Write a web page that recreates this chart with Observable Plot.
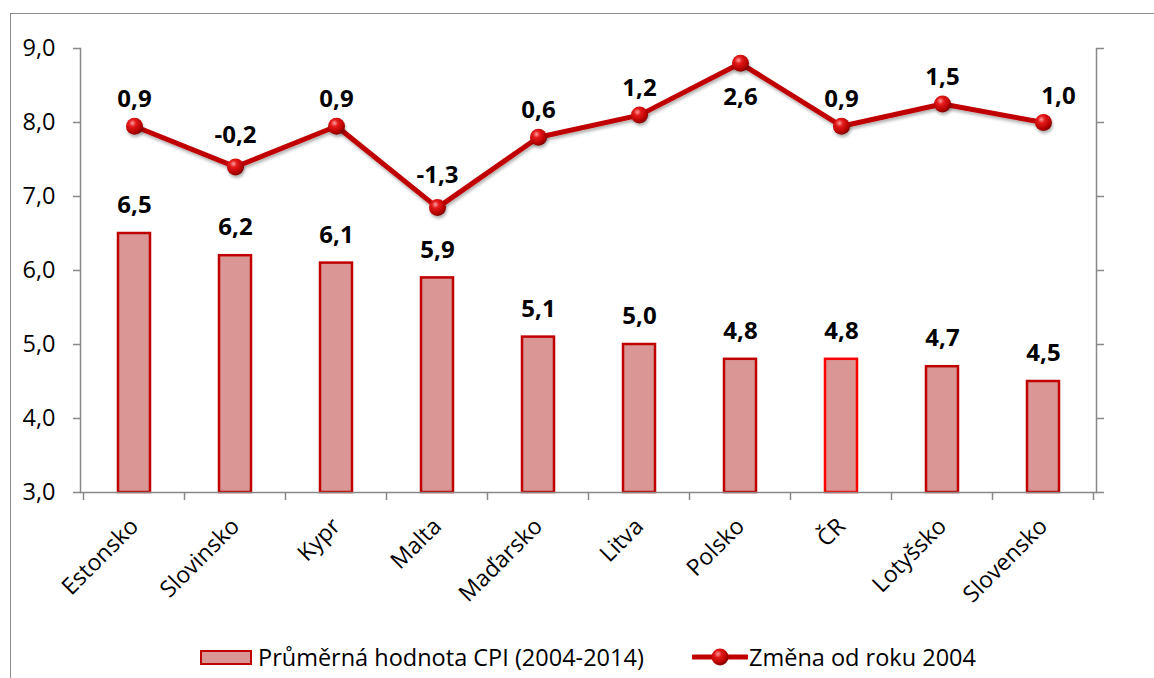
<!DOCTYPE html>
<html><head><meta charset="utf-8">
<script src="https://cdn.jsdelivr.net/npm/d3@7"></script>
<script src="https://cdn.jsdelivr.net/npm/@observablehq/plot@0.6"></script>
<style>
body{margin:0;background:#fff;font-family:"Open Sans",sans-serif;}
#wrap{position:relative;width:1154px;height:678px;overflow:hidden;background:#fff;}
#frame{position:absolute;left:10px;top:13px;width:1170px;height:720px;border:1px solid #8c8c8c;box-sizing:border-box;}
#chart{position:absolute;left:0;top:0;}
.leg{position:absolute;top:642px;display:flex;align-items:center;font-size:23.5px;color:#000;white-space:nowrap;height:30px;}
.sw{width:48px;height:11px;background:#D99694;border:2.5px solid #C00000;margin-right:6px;}
</style></head><body>
<div id="wrap"><div id="frame"></div><div id="chart"></div>
<div class="leg" id="leg1" style="left:200px"></div>
<div class="leg" id="leg2" style="left:692px"></div>
</div>
<script>
const countries = ["Estonsko","Slovinsko","Kypr","Malta","Maďarsko","Litva","Polsko","ČR","Lotyšsko","Slovensko"];
const cpiAvg = [6.5,6.2,6.1,5.9,5.1,5.0,4.8,4.8,4.7,4.5];
const change2004 = [0.9,-0.2,0.9,-1.3,0.6,1.2,2.6,0.9,1.5,1.0];
const leftTicks = [3,4,5,6,7,8,9];
const rightDomain = [-9,3];
const seriesNames = ["Průměrná hodnota CPI (2004-2014)","Změna od roku 2004"];
const highlight = "ČR";

const yMin = d3.min(leftTicks);
const data = countries.map((c,i)=>({country:c, cpi:cpiAvg[i], change:change2004[i]}));
const toLeft = d3.scaleLinear().domain(rightDomain).range(d3.extent(leftTicks));
const fmt = v => v.toFixed(1).replace(".", ",");
const maxChange = d3.max(change2004);
const lastCountry = countries[countries.length-1];
const FONT = "Open Sans";
const PADI = 0.685;
const LBL = 24;

function bandTicks(index, scales, values, dims) {
  const x = scales.x;
  let bw = typeof x.bandwidth === "function" ? x.bandwidth() : x.bandwidth;
  let st = typeof x.step === "function" ? x.step() : x.step;
  if (!(st > 0)) st = (dims.width - dims.marginLeft - dims.marginRight) / countries.length;
  if (!(bw > 0)) bw = st * (1 - PADI);
  const y0 = scales.y(yMin);
  const g = d3.create("svg:g").attr("stroke", "#888").attr("stroke-width", 1.5);
  const edges = countries.map(c => x(c) + bw/2 - st/2);
  edges.push(x(lastCountry) + bw/2 + st/2);
  for (const e of edges) g.append("line").attr("x1", e).attr("x2", e).attr("y1", y0).attr("y2", y0 + 8);
  return g.node();
}

const lineY = d => toLeft(d.change);

const plot = Plot.plot({
  width: 1154,
  height: 630,
  marginLeft: 80,
  marginRight: 58,
  marginTop: 48,
  marginBottom: 138,
  style: {fontFamily: FONT, background: "transparent", overflow: "visible"},
  x: {domain: countries, paddingInner: PADI, paddingOuter: PADI/2, label: null},
  y: {domain: d3.extent(leftTicks), label: null},
  marks: [
    Plot.barY(data.filter(d => d.country !== highlight), {x: "country", y1: () => yMin, y2: "cpi", fill: "#D99694", stroke: "#C00000", strokeWidth: 2.5}),
    Plot.barY(data.filter(d => d.country === highlight), {x: "country", y1: () => yMin, y2: "cpi", fill: "#D99694", stroke: "#FF0000", strokeWidth: 2.5}),
    Plot.frame({anchor: "left", stroke: "#888", strokeWidth: 1.5}),
    Plot.frame({anchor: "right", stroke: "#888", strokeWidth: 1.5}),
    Plot.frame({anchor: "bottom", stroke: "#888", strokeWidth: 1.5}),
    Plot.axisY({ticks: leftTicks, tickFormat: fmt, tickSize: 7, tickPadding: 18, fontSize: 23.5, stroke: "#888", strokeWidth: 1.5, fill: "#000", label: null}),
    Plot.axisY({anchor: "right", ticks: leftTicks, tickFormat: () => "", tickSize: 7, stroke: "#888", strokeWidth: 1.5, label: null}),
    Plot.axisX({tickSize: 0, tickPadding: 30, tickRotate: -45, fontSize: 23, fill: "#000", label: null}),
    bandTicks,
    Plot.line(data, {x: "country", y: lineY, stroke: "#C00000", strokeWidth: 5, strokeLinejoin: "round"}),
    Plot.dot(data, {x: "country", y: lineY, r: 8.5, fill: "url(#ball)", stroke: "none"}),
    Plot.text(data, {x: "country", y: "cpi", text: d => fmt(d.cpi), dy: -28, fontSize: LBL, fontWeight: "bold", fill: "#000"}),
    Plot.text(data.filter(d => d.change !== maxChange && d.change >= 0 && d.country !== lastCountry), {x: "country", y: lineY, text: d => fmt(d.change), dy: -27, fontSize: LBL, fontWeight: "bold", fill: "#000"}),
    Plot.text(data.filter(d => d.change < 0), {x: "country", y: lineY, text: d => fmt(d.change), dy: -32, fontSize: LBL, fontWeight: "bold", fill: "#000"}),
    Plot.text(data.filter(d => d.country === lastCountry), {x: "country", y: lineY, text: d => fmt(d.change), dy: -26, dx: 15, fontSize: LBL, fontWeight: "bold", fill: "#000"}),
    Plot.text(data.filter(d => d.change === maxChange), {x: "country", y: lineY, text: d => fmt(d.change), dy: 34, fontSize: LBL, fontWeight: "bold", fill: "#000"})
  ]
});

const defs = `
<radialGradient id="ball" cx="0.38" cy="0.32" r="0.7">
  <stop offset="0" stop-color="#ff9c9c"/>
  <stop offset="0.3" stop-color="#e41a1a"/>
  <stop offset="0.75" stop-color="#b80000"/>
  <stop offset="1" stop-color="#7a0000"/>
</radialGradient>
<filter id="shadow" x="-50%" y="-50%" width="200%" height="200%">
  <feDropShadow dx="1" dy="2.5" stdDeviation="1.6" flood-color="#000" flood-opacity="0.3"/>
</filter>`;
const svg = plot.tagName.toLowerCase() === "svg" ? plot : plot.querySelector("svg");
const d = document.createElementNS("http://www.w3.org/2000/svg", "defs");
d.innerHTML = defs;
svg.insertBefore(d, svg.firstChild);
svg.querySelectorAll("g[aria-label='line'], g[aria-label='dot']").forEach(g => g.setAttribute("filter", "url(#shadow)"));
document.getElementById("chart").appendChild(plot);

// legend
const l1 = document.getElementById("leg1");
l1.innerHTML = `<div class="sw"></div><span>${seriesNames[0]}</span>`;
const l2 = document.getElementById("leg2");
l2.innerHTML = `<svg width="56" height="22" style="margin-right:1px"><defs><radialGradient id="ball2" cx="0.38" cy="0.32" r="0.7"><stop offset="0" stop-color="#ff9c9c"/><stop offset="0.3" stop-color="#e41a1a"/><stop offset="0.75" stop-color="#b80000"/><stop offset="1" stop-color="#7a0000"/></radialGradient></defs><line x1="1" x2="55" y1="11" y2="11" stroke="#C00000" stroke-width="5" stroke-linecap="round"/><circle cx="28" cy="11" r="8.5" fill="url(#ball2)"/></svg><span>${seriesNames[1]}</span>`;
</script>
</body></html>
